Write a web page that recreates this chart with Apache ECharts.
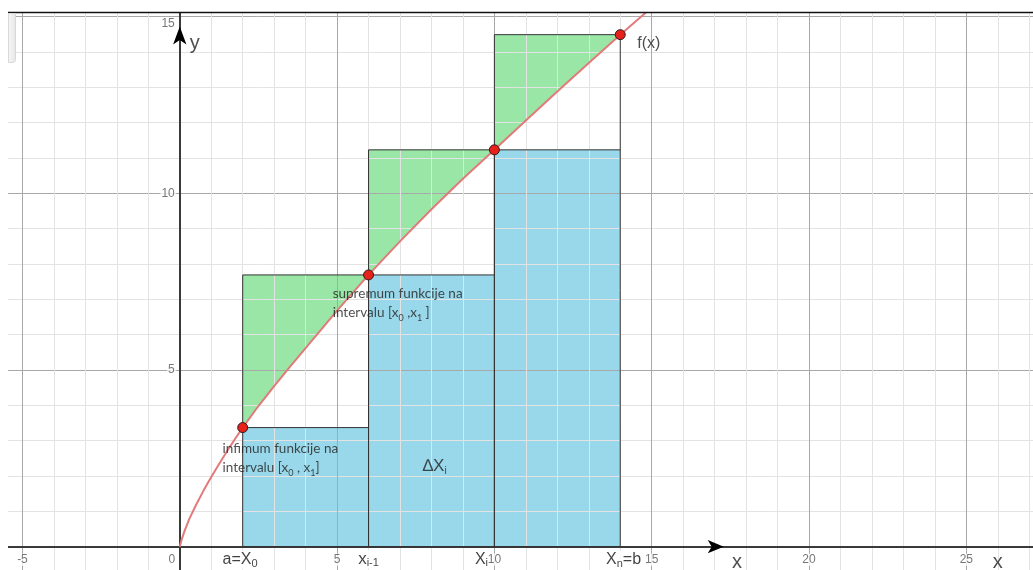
<!DOCTYPE html>
<html><head><meta charset="utf-8">
<script src="https://cdn.jsdelivr.net/npm/echarts@6/dist/echarts.min.js"></script>
<style>html,body{margin:0;padding:0;background:#fff}#c{width:1033px;height:570px}</style>
</head><body><div id="c"></div>
<script>
// curve f(x)
const curveX = [0, 0.05, 0.15, 0.3, 0.5, 0.75, 1, 1.25, 1.5, 1.75, 2, 2.5, 3, 3.5, 4, 5, 6, 7, 8, 9, 10, 11, 12, 13, 14, 15];
const curveY = [0, 0.17, 0.44, 0.78, 1.15, 1.58, 1.97, 2.34, 2.7, 3.04, 3.37, 3.98, 4.54, 5.09, 5.62, 6.68, 7.69, 8.64, 9.55, 10.41, 11.23, 12.06, 12.88, 13.69, 14.49, 15.26];
// partition points and infimum / supremum heights
const partX = [2, 6, 10, 14];
const infY = [3.37, 7.69, 11.23];
const supY = [7.69, 11.23, 14.49];
// marked points on the curve
const pointX = [2, 6, 10, 14];
const pointY = [3.37, 7.69, 11.23, 14.49];
// axis arrows
const arrowX = [0, 17.29];
const arrowY = [14.72, 0];
// tick labels
const xTickLabels = [-5, 0, 5, 10, 15, 20, 25];
const yTickLabels = [5, 10, 15];

const chart = echarts.init(document.getElementById('c'), null, {renderer: 'canvas'});
const TXT = 'Lato';
const AX = 'Liberation Sans';
const sub = {fontFamily: TXT, fontSize: 9, color: '#222', verticalAlign: 'bottom', lineHeight: 14};
const bsub = {fontFamily: AX, fontSize: 11, color: '#111', verticalAlign: 'bottom', lineHeight: 14};
const note = (x, y, text, extra) => ({
  value: [x, y],
  label: Object.assign({
    show: true, position: 'inside', align: 'left', verticalAlign: 'middle',
    formatter: text, fontFamily: TXT, fontSize: 13.5, color: '#222', lineHeight: 19,
    rich: {s: sub, bs: bsub}
  }, extra || {})
});

function fillItem(params, api) {
  const i = api.value(0);
  const a = partX[i], b = partX[i + 1];
  const p = (x, y) => api.coord([x, y]);
  const blue = [p(a, 0), p(b, 0), p(b, infY[i]), p(a, infY[i])];
  const green = [p(a, supY[i]), p(b, supY[i])];
  for (let k = curveX.length - 1; k >= 0; k--) {
    if (curveX[k] >= a && curveX[k] <= b) green.push(p(curveX[k], curveY[k]));
  }
  return {type: 'group', children: [
    {type: 'polygon', shape: {points: blue}, style: {fill: '#99d8ea'}},
    {type: 'polygon', shape: {points: green}, style: {fill: '#99e6a6'}}
  ]};
}
function outlineItem(params, api) {
  const i = api.value(0);
  const a = partX[i], b = partX[i + 1];
  const p = (x, y) => api.coord([x, y]);
  return {type: 'group', children: [
    {type: 'polygon', shape: {points: [p(a, 0), p(b, 0), p(b, supY[i]), p(a, supY[i])]},
     style: {fill: null, stroke: '#333', lineWidth: 1}},
    {type: 'line', shape: {x1: p(a, infY[i])[0], y1: p(a, infY[i])[1], x2: p(b, infY[i])[0], y2: p(b, infY[i])[1]},
     style: {stroke: '#333', lineWidth: 1}}
  ]};
}
const idx = infY.map((v, i) => [i]);
const minorC = '#e3e3e3', majorC = '#a8a8a8';
const tickLbl = {fontFamily: AX, fontSize: 12, color: '#555', backgroundColor: '#fff', padding: [0, 1]};

chart.setOption({
  animation: false,
  grid: {left: -9, top: -18.7, width: 1069.7, height: 600.7, containLabel: false, outerBoundsMode: 'none'},
  xAxis: {
    type: 'value', min: -6, max: 28, interval: 1, z: 1,
    axisLine: {onZero: true, lineStyle: {color: '#3a3a3a', width: 2}},
    axisTick: {show: false},
    splitLine: {show: true, lineStyle: {color: [minorC, majorC, minorC, minorC, minorC], width: 1}},
    axisLabel: {show: false}
  },
  yAxis: {
    type: 'value', min: -1, max: 16, interval: 1, z: 1,
    axisLine: {onZero: true, lineStyle: {color: '#3a3a3a', width: 2}},
    axisTick: {show: false},
    splitLine: {show: true, lineStyle: {color: [minorC, majorC, minorC, minorC, minorC], width: 1}},
    axisLabel: {show: false}
  },
  series: [
    {type: 'custom', name: 'fills', z: -1, renderItem: fillItem, data: idx, silent: true},
    {type: 'custom', name: 'outlines', z: 3, renderItem: outlineItem, data: idx, silent: true},
    {type: 'line', name: 'f(x)', z: 4, smooth: false, showSymbol: false,
     data: curveX.map((x, i) => [x, curveY[i]]),
     lineStyle: {color: '#e27a7a', width: 2}},
    {type: 'scatter', name: 'points', z: 5, symbol: 'circle', symbolSize: 10,
     data: pointX.map((x, i) => [x, pointY[i]]),
     itemStyle: {color: '#e8201a', borderColor: '#222', borderWidth: 1, opacity: 1}},
    {type: 'scatter', name: 'arrows', z: 5, symbol: 'arrow',
     data: [
       {value: [arrowX[0], arrowY[0]], symbolSize: [10, 18], symbolRotate: 0},
       {value: [arrowX[1], arrowY[1]], symbolSize: [10, 16], symbolRotate: -90}
     ],
     itemStyle: {color: '#000', opacity: 1}},
    {type: 'scatter', name: 'xTicks', z: 2, symbolSize: 0, silent: true,
     data: xTickLabels.map(v => ({
       value: [v, 0],
       label: Object.assign({show: true, position: 'inside', formatter: String(v),
         offset: v === 0 ? [-8, 13] : [0, 13]}, tickLbl)
     }))},
    {type: 'scatter', name: 'yTicks', z: 2, symbolSize: 0, silent: true,
     data: yTickLabels.map(v => ({
       value: [0, v],
       label: Object.assign({show: true, position: 'inside', align: 'right', formatter: String(v),
         offset: v === 15 ? [-4, 7] : [-4, 0]}, tickLbl)
     }))},
    {type: 'scatter', name: 'notes', z: 6, symbolSize: 0, silent: true,
     data: [
       note(1.36, 2.5, 'infimum funkcije na\nintervalu [x{s|0} , x{s|1}]'),
       note(4.86, 6.88, 'supremum funkcije na\nintervalu [x{s|0} ,x{s|1} ]'),
       note(7.72, 2.26, '∆X{s|i}', {fontFamily: AX, fontSize: 17, color: '#222', rich: {s: {fontFamily: AX, fontSize: 10, color: '#222', verticalAlign: 'bottom', lineHeight: 16}}}),
       note(1.36, -0.38, 'a=X{bs|0}', {fontFamily: AX, fontSize: 16, color: '#111', backgroundColor: '#fff', rich: {bs: bsub}}),
       note(5.67, -0.36, 'x{bs|i-1}', {fontFamily: AX, fontSize: 17, color: '#111', backgroundColor: '#fff', rich: {bs: bsub}}),
       note(9.38, -0.36, 'X{bs|i}', {fontFamily: AX, fontSize: 16, color: '#111', rich: {bs: bsub}}),
       note(13.55, -0.38, 'X{bs|n}=b', {fontFamily: AX, fontSize: 16, color: '#111', backgroundColor: '#fff', rich: {bs: bsub}}),
       note(14.54, 14.24, 'f(x)', {fontFamily: AX, fontSize: 16, color: '#222'}),
       note(0.32, 14.25, 'y', {fontFamily: AX, fontSize: 20, color: '#222'}),
       note(17.55, -0.46, 'x', {fontFamily: AX, fontSize: 20, color: '#222'}),
       note(25.84, -0.46, 'x', {fontFamily: AX, fontSize: 20, color: '#222'})
     ]}
  ],
  graphic: [
    {type: 'rect', z: 100, shape: {x: 0, y: 0, width: 1033, height: 12}, style: {fill: '#fff'}},
    {type: 'rect', z: 100, shape: {x: 0, y: 0, width: 8, height: 570}, style: {fill: '#fff'}},
    {type: 'line', z: 101, shape: {x1: 8, y1: 12.5, x2: 1033, y2: 12.5}, style: {stroke: '#111', lineWidth: 1.5}},
    {type: 'rect', z: 101, shape: {x: 8.5, y: 13.5, width: 7, height: 49, r: [0, 0, 3, 0]},
     style: {fill: {type: 'linear', x: 0, y: 0, x2: 1, y2: 0, colorStops: [{offset: 0, color: '#f7f7f7'}, {offset: 1, color: '#e6e6e6'}]}, stroke: '#d8d8d8', lineWidth: 1}}
  ]
});
</script>
</body></html>
